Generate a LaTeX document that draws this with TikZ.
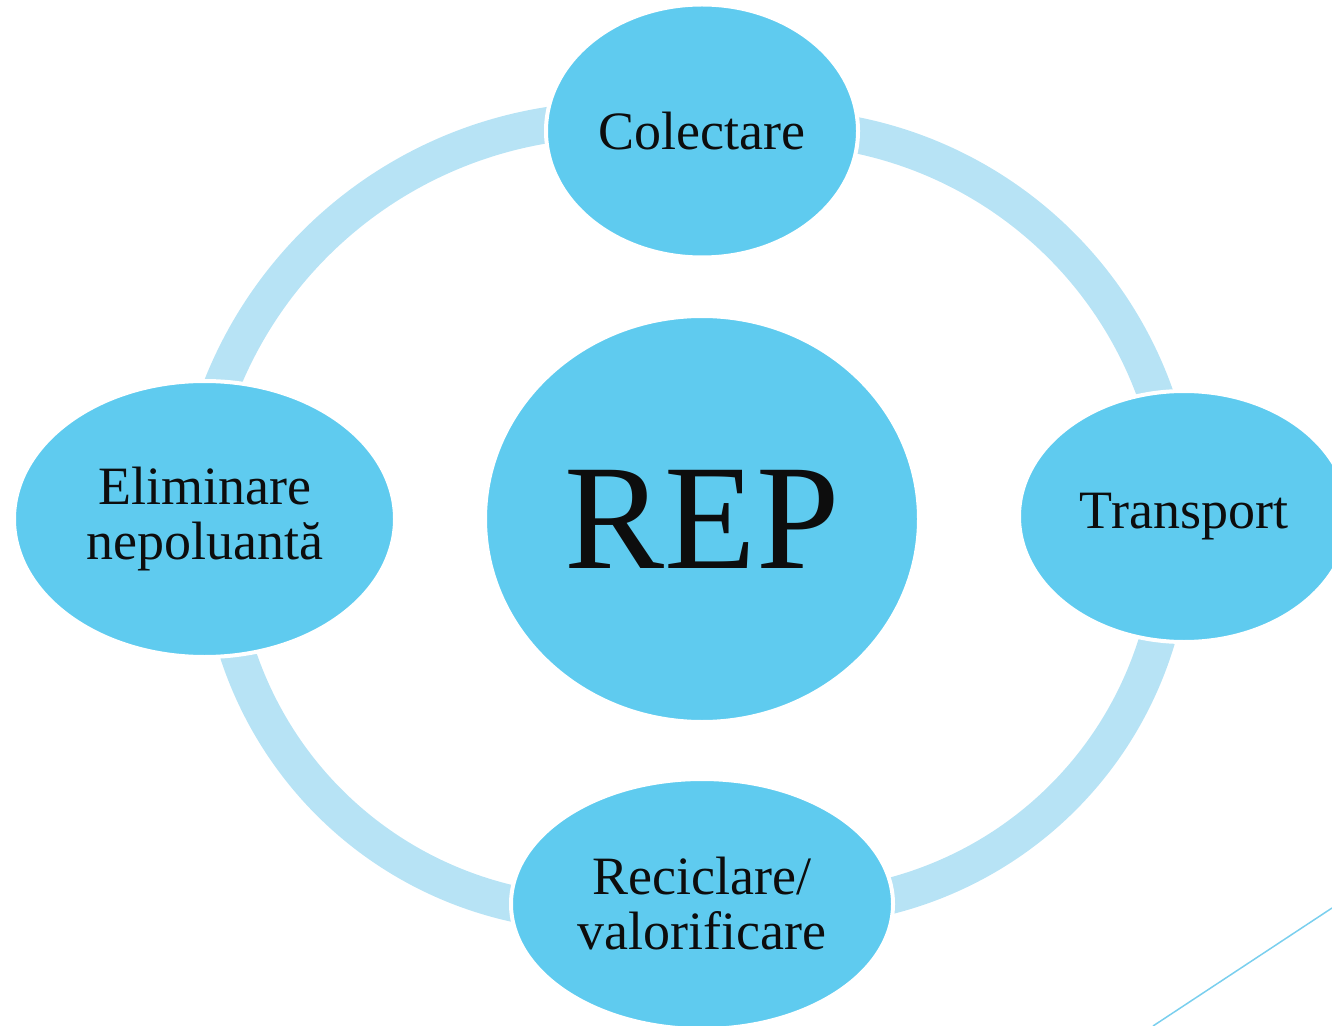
\documentclass[tikz,border=0pt]{standalone}
\usepackage{fontspec}
\setmainfont{Liberation Serif}
\usetikzlibrary{shapes.geometric}
\definecolor{nodeblue}{HTML}{5FCBEF}
\definecolor{ringblue}{HTML}{B7E3F5}
\definecolor{lineblue}{HTML}{7ACFEE}
\definecolor{txtblack}{HTML}{0D0D0D}
\begin{document}
\begin{tikzpicture}[x=0.5pt,y=-0.5pt,
        stage/.style={ellipse,fill=nodeblue,draw=white,line width=2pt,inner sep=0pt,
                      text=txtblack,align=center,font=\fontsize{27}{27.5}\selectfont},
        ring/.style={draw=ringblue,line width=18pt,bend left=31,looseness=0.92}]
            \useasboundingbox (0,0) rectangle (1332,1026);

            % ends of the ring segments, just inside the nodes
            \coordinate (colE) at (845,133);
            \coordinate (traN) at (1159,405);
            \coordinate (traS) at (1160,630);
            \coordinate (recE) at (878,899);
            \coordinate (recW) at (524,906);
            \coordinate (eliS) at (235,645);
            \coordinate (eliN) at (219,392);
            \coordinate (colW) at (562,123);

            \draw[ring] (colE) to (traN);
            \draw[ring] (traS) to (recE);
            \draw[ring] (recW) to (eliS);
            \draw[ring] (eliN) to (colW);

            \node[stage,minimum width=217pt,minimum height=203pt,
                  font=\fontsize{75}{75}\selectfont] (rep) at (702,519) {REP};
            \node[stage,minimum width=156pt,minimum height=126.5pt] (col) at (702,131) {Colectare};
            \node[stage,minimum width=165pt,minimum height=125.5pt] (tra) at (1184,516.5) {Transport};
            \node[stage,minimum width=191pt,minimum height=125pt] (rec) at (702,904) {Reciclare/\\valorificare};
            \node[stage,minimum width=190.5pt,minimum height=138pt] (eli) at (204.5,519) {Eliminare\\nepoluantă};

            \coordinate (lnA) at (1153,1026);
            \coordinate (lnB) at (1332,908);
            \draw[lineblue,line width=0.75pt] (lnA) -- (lnB);
        \end{tikzpicture}
\end{document}
